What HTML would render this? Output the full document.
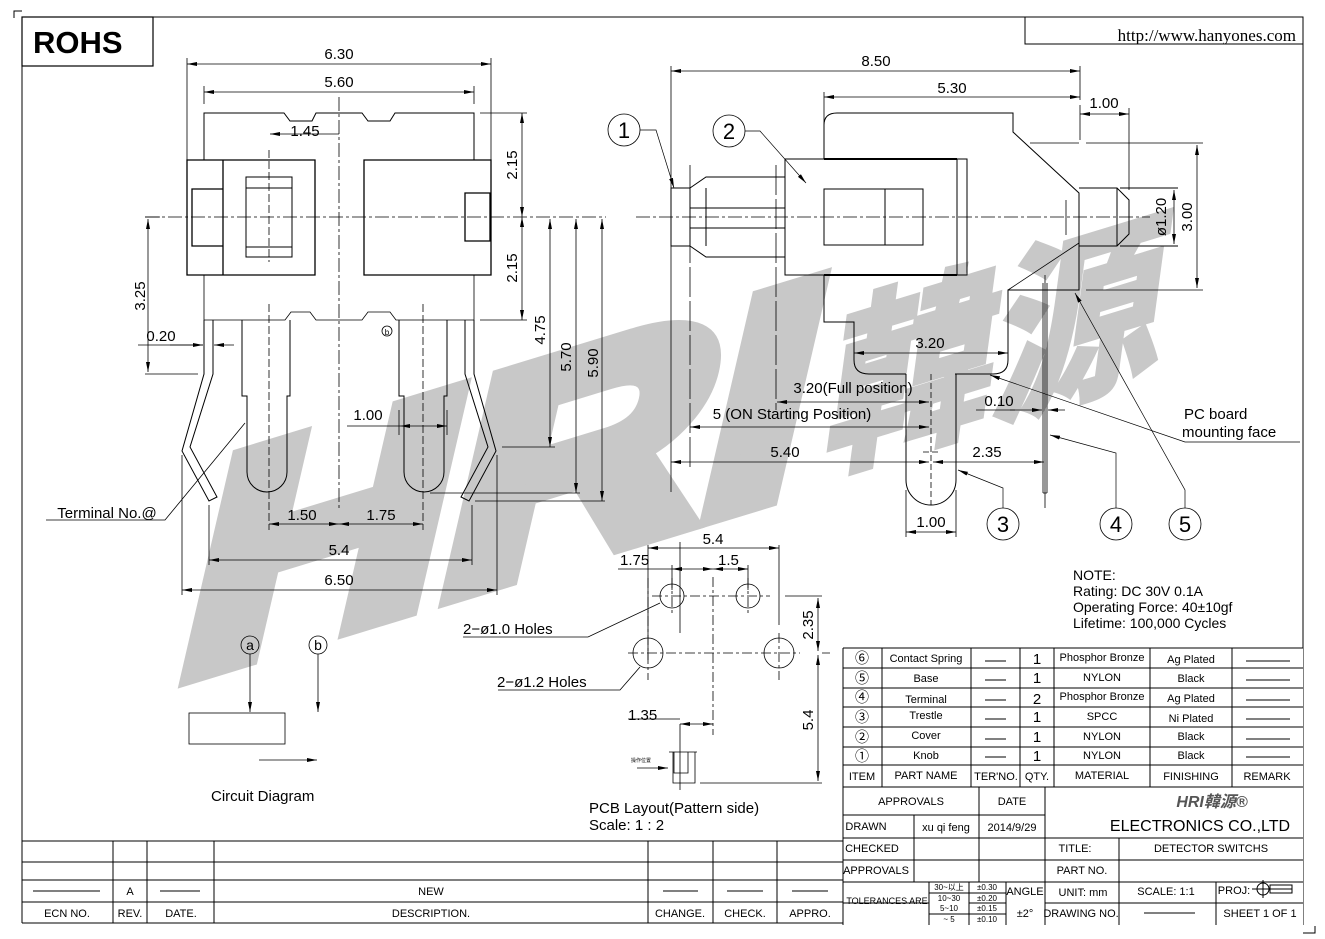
<!DOCTYPE html>
<html><head><meta charset="utf-8"><style>
html,body{margin:0;padding:0;background:#fff}
svg{display:block}
text{font-family:"Liberation Sans","Noto Sans CJK SC",sans-serif;fill:#000}
</style></head><body>
<svg width="1325" height="939" viewBox="0 0 1325 939" xmlns="http://www.w3.org/2000/svg">
<defs>
<marker id="a" viewBox="0 0 10 4" refX="10" refY="2" markerWidth="10" markerHeight="4" orient="auto-start-reverse" markerUnits="userSpaceOnUse"><path d="M0,0L10,2L0,4z" fill="#000"/></marker>
</defs>
<!-- watermark -->
<text x="0" y="0" transform="translate(170,680) skewY(-17) skewX(-14)" style="font-family:'Liberation Sans',sans-serif;font-weight:bold;fill:#c8c8c8;stroke:#c8c8c8;stroke-width:22;stroke-linejoin:miter" font-size="290" textLength="620" lengthAdjust="spacingAndGlyphs">HRI</text>
<text x="0" y="0" transform="translate(822,465) skewY(-17) skewX(-8)" style="font-family:'Noto Sans CJK SC',sans-serif;font-weight:bold;fill:#c8c8c8;stroke:#c8c8c8;stroke-width:6" font-size="185" textLength="335" lengthAdjust="spacingAndGlyphs">韓源</text>
<g fill="none" stroke="#000" stroke-width="1">
<path d="M14,18V11H22"/>
<path d="M22,17H1303V925 M22,17V923"/>
<path d="M1303,933H1315V926"/>
<rect x="22" y="17" width="131" height="49" stroke-width="1.2"/>
<rect x="1025" y="17" width="278" height="27"/>
</g>
<text x="33" y="53" font-size="31" font-weight="bold">ROHS</text>
<text x="1296" y="41" font-size="17" text-anchor="end" style="font-family:'Liberation Serif',serif">http://www.hanyones.com</text>

<!-- LEFT VIEW -->
<g fill="none" stroke="#000" stroke-width="1">
<path d="M187,58V160 M491,58V160 M204,86V104 M474,86V104" stroke-width="0.8"/>
<line x1="187" y1="64" x2="491" y2="64" marker-start="url(#a)" marker-end="url(#a)" stroke-width="0.8"/>
<line x1="204" y1="92" x2="474" y2="92" marker-start="url(#a)" marker-end="url(#a)" stroke-width="0.8"/>
<path d="M204,160V113H284L290,121H312L316,113H362L368,121H390L395,113H474V160"/>
<path d="M187,160H315V275H187Z M223,160V275 M192,189H223V246H192Z" stroke-width="1.3"/>
<path d="M246,177H292V257H246Z M246,188H292 M246,247H292"/>
<path d="M364,160H491V275H364Z M465,193H490V241H465Z" stroke-width="1.3"/>
<path d="M204,275V320H285L291,312H310L316,320H362L368,312H390L396,320H474V275" stroke-width="0.8"/>
<path d="M339,97V510" stroke-dasharray="14,3,3,3" stroke-width="0.8"/>
<path d="M145,217H606" stroke-dasharray="14,3,3,3" stroke-width="0.8"/>
<path d="M269,150V262 M269,304V530 M423,304V530" stroke-dasharray="8,3" stroke-width="0.8"/>
<line x1="339" y1="134" x2="270" y2="134" marker-end="url(#a)" stroke-width="0.8"/>
<path d="M204,320V374L182,451L209,501L217,497L190,447L213,374V320"/>
<path d="M474,320V374L496,451L469,501L461,497L488,447L465,374V320"/>
<path d="M242,320V396H247V472A20,20 0 0 0 287,472V396H290V320"/>
<path d="M399,320V396H404V472A20,20 0 0 0 444,472V396H447V320"/>
<path d="M480,113H527 M480,320H527" stroke-width="0.8"/>
<line x1="522" y1="113" x2="522" y2="217" marker-start="url(#a)" marker-end="url(#a)" stroke-width="0.8"/>
<line x1="522" y1="217" x2="522" y2="320" marker-start="url(#a)" marker-end="url(#a)" stroke-width="0.8"/>
<path d="M502,447H555 M430,493H580 M475,501H605" stroke-width="0.8"/>
<line x1="550" y1="219" x2="550" y2="447" marker-start="url(#a)" marker-end="url(#a)" stroke-width="0.8"/>
<line x1="576" y1="219" x2="576" y2="493" marker-start="url(#a)" marker-end="url(#a)" stroke-width="0.8"/>
<line x1="602" y1="219" x2="602" y2="501" marker-start="url(#a)" marker-end="url(#a)" stroke-width="0.8"/>
<path d="M145,217H160 M145,374H198" stroke-width="0.8"/>
<line x1="148" y1="219" x2="148" y2="372" marker-start="url(#a)" marker-end="url(#a)" stroke-width="0.8"/>
<path d="M138,345H203" stroke-width="0.8"/>
<line x1="170" y1="345" x2="203" y2="345" marker-end="url(#a)" stroke-width="0.8"/>
<line x1="234" y1="345" x2="214" y2="345" marker-end="url(#a)" stroke-width="0.8"/>
<path d="M347,426H400 M399,410V435 M447,410V435" stroke-width="0.8"/>
<line x1="400" y1="426" x2="447" y2="426" marker-start="url(#a)" marker-end="url(#a)" stroke-width="0.8"/>
<path d="M209,505V565 M472,505V565 M182,455V595 M497,455V595" stroke-width="0.8"/>
<line x1="269" y1="524" x2="339" y2="524" marker-start="url(#a)" marker-end="url(#a)" stroke-width="0.8"/>
<line x1="339" y1="524" x2="423" y2="524" marker-start="url(#a)" marker-end="url(#a)" stroke-width="0.8"/>
<line x1="209" y1="560" x2="472" y2="560" marker-start="url(#a)" marker-end="url(#a)" stroke-width="0.8"/>
<line x1="182" y1="590" x2="497" y2="590" marker-start="url(#a)" marker-end="url(#a)" stroke-width="0.8"/>
<path d="M46,520H165L245,423" stroke-width="0.8"/>
<circle cx="387" cy="331" r="5" stroke-width="0.8"/>
</g>
<g font-size="15" text-anchor="middle">
<text x="339" y="59">6.30</text>
<text x="339" y="87">5.60</text>
<text x="305" y="136">1.45</text>
<text x="161" y="341">0.20</text>
<text x="368" y="420">1.00</text>
<text x="302" y="520">1.50</text>
<text x="381" y="520">1.75</text>
<text x="339" y="555">5.4</text>
<text x="339" y="585">6.50</text>
<text transform="translate(517,165) rotate(-90)">2.15</text>
<text transform="translate(517,268) rotate(-90)">2.15</text>
<text transform="translate(145,296) rotate(-90)">3.25</text>
<text transform="translate(545,330) rotate(-90)">4.75</text>
<text transform="translate(571,357) rotate(-90)">5.70</text>
<text transform="translate(598,363) rotate(-90)">5.90</text>
<text x="107" y="518">Terminal No.@</text>
<text x="387" y="335" font-size="8">b</text>
</g>

<!-- RIGHT VIEW -->
<g fill="none" stroke="#000" stroke-width="1">
<path d="M671,66V492 M1080,66V100 M824,92V125 M1129,108V190" stroke-width="0.8"/>
<line x1="671" y1="71" x2="1080" y2="71" marker-start="url(#a)" marker-end="url(#a)" stroke-width="0.8"/>
<line x1="824" y1="97" x2="1080" y2="97" marker-start="url(#a)" marker-end="url(#a)" stroke-width="0.8"/>
<line x1="1080" y1="114" x2="1129" y2="114" marker-start="url(#a)" marker-end="url(#a)" stroke-width="0.8"/>
<path d="M1080,105V140" stroke-width="0.8"/>
<path d="M671,188H690V246H671Z M690,188L706,177H785 M690,246L706,257H785 M690,188V246 M706,188V246 M690,208H785 M690,228H785"/>
<path d="M785,159H967V275H785Z M957,159V275 M824,189H923V245H824Z M885,189V245"/>
<path d="M824,159H957 M824,275H957" stroke-width="2"/>
<path d="M824,159V125Q824,113 837,113H1013V132L1079,193V290H1008V360Q1008,374 993,374H955 M906,374H869Q854,374 854,360V322H824V275"/>
<path d="M1079,243L1008,290" stroke-width="0.8"/>
<path d="M1030,143H1079 M1086,143H1203 M1086,290H1203 M1066,200V235" stroke-width="0.8"/>
<path d="M1079,188H1117L1129,200V234L1117,246H1079 M1117,188V246 M1120,188H1178 M1120,246H1178"/>
<line x1="1174" y1="190" x2="1174" y2="244" marker-start="url(#a)" marker-end="url(#a)" stroke-width="0.8"/>
<line x1="1197" y1="145" x2="1197" y2="288" marker-start="url(#a)" marker-end="url(#a)" stroke-width="0.8"/>
<path d="M636,217H1150" stroke-dasharray="14,3,3,3" stroke-width="0.8"/>
<path d="M1043,283V493 M1047,283V493 M1043,493H1047 M1045,275V508" stroke-width="0.8"/>
<path d="M906,374V480A25,25 0 0 0 956,480V374"/>
<path d="M931,374V505 M923,452H939" stroke-dasharray="6,3" stroke-width="0.8"/>
<path d="M906,490V537 M956,490V537" stroke-width="0.8"/>
<line x1="906" y1="532" x2="956" y2="532" marker-start="url(#a)" marker-end="url(#a)" stroke-width="0.8"/>
<path d="M690,165V470 M776,165V410" stroke-dasharray="30,4" stroke-width="0.8"/>
<line x1="854" y1="353" x2="1008" y2="353" marker-start="url(#a)" marker-end="url(#a)" stroke-width="0.8"/>
<line x1="777" y1="402" x2="929" y2="402" marker-start="url(#a)" marker-end="url(#a)" stroke-width="0.8"/>
<line x1="690" y1="427" x2="929" y2="427" marker-start="url(#a)" marker-end="url(#a)" stroke-width="0.8"/>
<line x1="671" y1="462" x2="929" y2="462" marker-start="url(#a)" marker-end="url(#a)" stroke-width="0.8"/>
<line x1="933" y1="462" x2="1044" y2="462" marker-start="url(#a)" marker-end="url(#a)" stroke-width="0.8"/>
<path d="M976,410H1015" stroke-width="0.8"/>
<line x1="1010" y1="410" x2="1042" y2="410" marker-end="url(#a)" stroke-width="0.8"/>
<line x1="1065" y1="410" x2="1048" y2="410" marker-end="url(#a)" stroke-width="0.8"/>
<circle cx="624" cy="130" r="16" stroke-width="0.8"/>
<circle cx="729" cy="131" r="16" stroke-width="0.8"/>
<circle cx="1003" cy="524" r="16" stroke-width="0.8"/>
<circle cx="1116" cy="524" r="16" stroke-width="0.8"/>
<circle cx="1185" cy="524" r="16" stroke-width="0.8"/>
<path d="M640,130H656L674,188" stroke-width="0.7" marker-end="url(#a)"/>
<path d="M745,131H760L806,183" stroke-width="0.7" marker-end="url(#a)"/>
<path d="M1003,508V488L958,470" stroke-width="0.7" marker-end="url(#a)"/>
<path d="M1116,508V453L1050,435" stroke-width="0.7" marker-end="url(#a)"/>
<path d="M1185,508V490L1075,293" stroke-width="0.7" marker-end="url(#a)"/>
<path d="M1300,442H1185L990,375" stroke-width="0.7" marker-end="url(#a)"/>
</g>
<g font-size="15" text-anchor="middle">
<text x="876" y="66">8.50</text>
<text x="952" y="93">5.30</text>
<text x="1104" y="108">1.00</text>
<text x="930" y="348">3.20</text>
<text x="853" y="393">3.20(Full position)</text>
<text x="792" y="419">5 (ON Starting Position)</text>
<text x="785" y="457">5.40</text>
<text x="987" y="457">2.35</text>
<text x="999" y="406">0.10</text>
<text x="931" y="527">1.00</text>
<text transform="translate(1166,217) rotate(-90)">ø1.20</text>
<text transform="translate(1192,217) rotate(-90)">3.00</text>
<text x="624" y="138" font-size="22">1</text>
<text x="729" y="139" font-size="22">2</text>
<text x="1003" y="532" font-size="22">3</text>
<text x="1116" y="532" font-size="22">4</text>
<text x="1185" y="532" font-size="22">5</text>
<text x="1184" y="419" text-anchor="start">PC board</text>
<text x="1182" y="437" text-anchor="start">mounting face</text>
</g>

<!-- PCB layout -->
<g fill="none" stroke="#000" stroke-width="0.8">
<circle cx="672" cy="596" r="12"/><circle cx="748" cy="596" r="12"/>
<circle cx="648" cy="653" r="15"/><circle cx="779" cy="653" r="15"/>
<path d="M652,596H770 M628,653H800 M648,578V680 M672,578V614 M748,578V614 M779,633V680 M713,577V735" stroke-dasharray="10,3,3,3"/>
<path d="M648,545V660 M779,545V625 M672,565V590 M748,565V590 M618,569H672 M785,596H822 M830,653H822 M700,783H822 M680,633V542"/>
<line x1="648" y1="548" x2="779" y2="548" marker-start="url(#a)" marker-end="url(#a)"/>
<line x1="672" y1="569" x2="713" y2="569" marker-start="url(#a)" marker-end="url(#a)"/>
<line x1="713" y1="569" x2="748" y2="569" marker-start="url(#a)" marker-end="url(#a)"/>
<line x1="818" y1="598" x2="818" y2="651" marker-start="url(#a)" marker-end="url(#a)"/>
<line x1="818" y1="655" x2="818" y2="781" marker-start="url(#a)" marker-end="url(#a)"/>
<path d="M628,719H680 M680,724V790"/>
<line x1="680" y1="724" x2="713" y2="724" marker-start="url(#a)" marker-end="url(#a)"/>
<path d="M669,752H697 M673,752V783H695V752 M674,752V773H688V752"/>
<path d="M463,637H588L660,603 M498,690H620L640,667"/>
<line x1="637" y1="768" x2="668" y2="768" marker-end="url(#a)"/>
</g>
<g font-size="15">
<text x="713" y="544" text-anchor="middle">5.4</text>
<text x="620" y="565">1.75</text>
<text x="718" y="565">1.5</text>
<text x="628" y="720">1.35</text>
<text x="463" y="634">2−ø1.0 Holes</text>
<text x="497" y="687">2−ø1.2 Holes</text>
<text transform="translate(813,625) rotate(-90)" text-anchor="middle">2.35</text>
<text transform="translate(813,720) rotate(-90)" text-anchor="middle">5.4</text>
<text x="589" y="813">PCB Layout(Pattern side)</text>
<text x="589" y="830">Scale: 1 : 2</text>
<text x="631" y="762" font-size="5">操作位置</text>
</g>

<!-- circuit -->
<g fill="none" stroke="#000" stroke-width="0.8">
<circle cx="250" cy="645" r="9"/><circle cx="318" cy="645" r="9"/>
<line x1="250" y1="654" x2="250" y2="712" marker-end="url(#a)"/>
<line x1="318" y1="654" x2="318" y2="712" marker-end="url(#a)"/>
<rect x="189" y="713" width="96" height="31"/>
<line x1="259" y1="760" x2="317" y2="760" marker-end="url(#a)"/>
</g>
<g font-size="15">
<text x="250" y="650" text-anchor="middle" font-size="14">a</text>
<text x="318" y="650" text-anchor="middle" font-size="14">b</text>
<text x="211" y="801">Circuit Diagram</text>
</g>

<g font-size="14">
<text x="1073" y="580">NOTE:</text>
<text x="1073" y="596">Rating: DC 30V 0.1A</text>
<text x="1073" y="612">Operating Force: 40±10gf</text>
<text x="1073" y="628">Lifetime: 100,000 Cycles</text>
</g>

<!-- parts table -->
<rect x="843" y="648" width="460" height="277" fill="#fff"/>
<g fill="none" stroke="#000" stroke-width="1">
<path d="M843,648H1303 M843,668H1303 M843,688H1303 M843,707H1303 M843,727H1303 M843,747H1303 M843,765H1303 M843,787H1303"/>
<path d="M843,648V925 M882,648V787 M971,648V787 M1020,648V787 M1054,648V787 M1150,648V787 M1232,648V787"/>
<path d="M843,815H1045 M843,838H1303 M843,860H1303 M843,882H1303 M1045,903H1303 M843,903H929 M929,893H1006 M929,914H1006"/>
<path d="M914,815V882 M979,787V882 M1045,787V925 M1119,838V925 M1216,882V925 M929,882V925 M969,882V925 M1006,882V925 M969,903H1006"/>
<path d="M985,661H1006 M985,680H1006 M985,700H1006 M985,719H1006 M985,739H1006 M985,757H1006 M1246,661H1290 M1246,680H1290 M1246,700H1290 M1246,719H1290 M1246,739H1290 M1246,757H1290 M1144,913H1195"/>
<circle cx="1263" cy="889" r="6"/><path d="M1252,889H1292 M1263,880V898 M1270,885H1292V893H1270Z"/>
</g>
<g font-size="11" text-anchor="middle">
<g font-size="14"><text x="862" y="663">⑥</text><text x="862" y="683">⑤</text><text x="862" y="702">④</text><text x="862" y="722">③</text><text x="862" y="742">②</text><text x="862" y="761">①</text></g>
<text x="926" y="662">Contact Spring</text><text x="926" y="682">Base</text><text x="926" y="703">Terminal</text><text x="926" y="719">Trestle</text><text x="926" y="739">Cover</text><text x="926" y="759">Knob</text>
<g font-size="15"><text x="1037" y="664">1</text><text x="1037" y="683">1</text><text x="1037" y="704">2</text><text x="1037" y="722">1</text><text x="1037" y="742">1</text><text x="1037" y="761">1</text></g>
<text x="1102" y="661">Phosphor Bronze</text><text x="1102" y="681">NYLON</text><text x="1102" y="700">Phosphor Bronze</text><text x="1102" y="720">SPCC</text><text x="1102" y="740">NYLON</text><text x="1102" y="759">NYLON</text>
<text x="1191" y="663">Ag Plated</text><text x="1191" y="682">Black</text><text x="1191" y="702">Ag Plated</text><text x="1191" y="722">Ni Plated</text><text x="1191" y="740">Black</text><text x="1191" y="759">Black</text>
<text x="862" y="780">ITEM</text><text x="926" y="779">PART NAME</text><text x="996" y="780">TER'NO.</text><text x="1037" y="780">QTY.</text><text x="1102" y="779">MATERIAL</text><text x="1191" y="780">FINISHING</text><text x="1267" y="780">REMARK</text>
<text x="911" y="805">APPROVALS</text><text x="1012" y="805">DATE</text>
<text x="866" y="830">DRAWN</text><text x="946" y="831">xu qi feng</text><text x="1012" y="831">2014/9/29</text>
<text x="872" y="852">CHECKED</text><text x="876" y="874">APPROVALS</text>
<text x="1075" y="852">TITLE:</text><text x="1211" y="852">DETECTOR SWITCHS</text>
<text x="1082" y="874">PART NO.</text>
<text x="887" y="904" font-size="9">TOLERANCES ARE</text>
<g font-size="8"><text x="949" y="890">30~以上</text><text x="949" y="901">10~30</text><text x="949" y="911">5~10</text><text x="949" y="922">~ 5</text>
<text x="987" y="890">±0.30</text><text x="987" y="901">±0.20</text><text x="987" y="911">±0.15</text><text x="987" y="922">±0.10</text></g>
<text x="1025" y="895">ANGLE</text><text x="1025" y="917">±2°</text>
<text x="1083" y="896">UNIT: mm</text><text x="1166" y="895">SCALE: 1:1</text><text x="1234" y="894">PROJ:</text>
<text x="1081" y="917">DRAWING NO.</text><text x="1260" y="917">SHEET 1 OF 1</text>
<text x="1200" y="831" font-size="16">ELECTRONICS CO.,LTD</text>
<text x="1212" y="807" font-size="16" font-weight="bold" font-style="italic" style="fill:#555">HRI韓源®</text>
</g>

<!-- revision table -->
<g fill="none" stroke="#000" stroke-width="1">
<path d="M22,841H843 M22,862H843 M22,880H843 M22,902H843 M22,923H843"/>
<path d="M113,841V923 M147,841V923 M214,841V923 M648,841V923 M713,841V923 M777,841V923"/>
<path d="M33,891H100 M160,891H200 M663,891H698 M727,891H763 M792,891H828"/>
</g>
<g font-size="11" text-anchor="middle">
<text x="130" y="895">A</text><text x="431" y="895">NEW</text>
<text x="67" y="917">ECN NO.</text><text x="130" y="917">REV.</text><text x="181" y="917">DATE.</text><text x="431" y="917">DESCRIPTION.</text>
<text x="680" y="917">CHANGE.</text><text x="745" y="917">CHECK.</text><text x="810" y="917">APPRO.</text>
</g>
</svg>
</body></html>
